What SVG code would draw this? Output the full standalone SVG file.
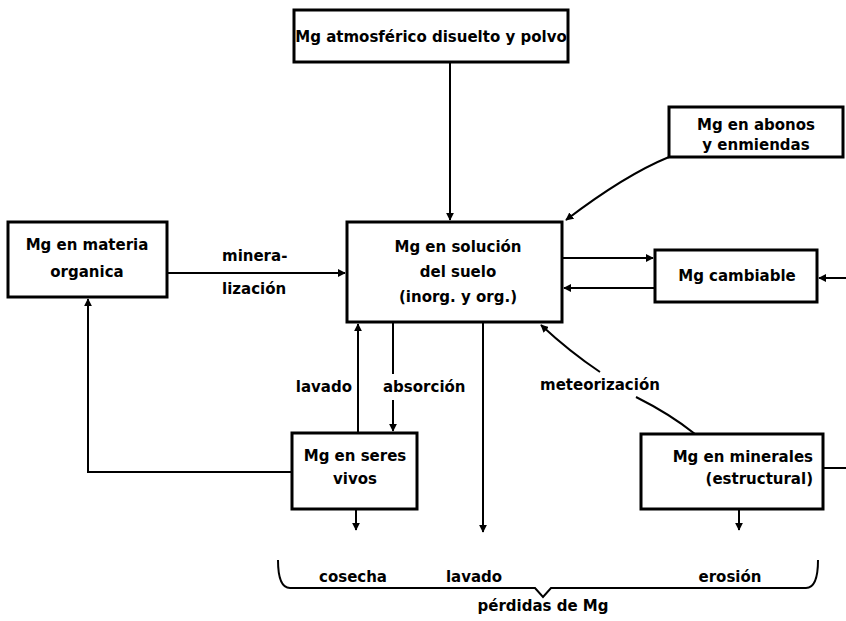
<svg xmlns="http://www.w3.org/2000/svg" width="846" height="621" viewBox="0 0 846 621">
<style>
.box{fill:#fff;stroke:#000;stroke-width:3}
.ln{fill:none;stroke:#000;stroke-width:2}
text{font-family:"DejaVu Sans","Liberation Sans",sans-serif;font-size:15px;font-weight:bold;fill:#000}
.c{text-anchor:middle}
.r{text-anchor:end}
</style>
<defs>
<marker id="ah" viewBox="0 0 10 10" refX="9" refY="5" markerWidth="4" markerHeight="4" orient="auto" markerUnits="strokeWidth">
<path d="M0,0 L10,5 L0,10 z" fill="#000"/>
</marker>
</defs>
<g id="connectors">
<line class="ln" x1="450" y1="62" x2="450" y2="220" marker-end="url(#ah)"/>
<path class="ln" d="M669,157 Q625,175 566,220" marker-end="url(#ah)"/>
<line class="ln" x1="167" y1="273" x2="345" y2="273" marker-end="url(#ah)"/>
<line class="ln" x1="562" y1="258" x2="653" y2="258" marker-end="url(#ah)"/>
<line class="ln" x1="655" y1="288" x2="564" y2="288" marker-end="url(#ah)"/>
<line class="ln" x1="846" y1="278" x2="819" y2="278" marker-end="url(#ah)"/>
<line class="ln" x1="823" y1="468" x2="846" y2="468"/>
<line class="ln" x1="358" y1="433" x2="358" y2="324" marker-end="url(#ah)"/>
<line class="ln" x1="393" y1="322" x2="393" y2="374"/>
<line class="ln" x1="393" y1="400" x2="393" y2="431" marker-end="url(#ah)"/>
<line class="ln" x1="483" y1="322" x2="483" y2="532" marker-end="url(#ah)"/>
<path class="ln" d="M292,472 L88,472 L88,299" marker-end="url(#ah)"/>
<path class="ln" d="M695,434 Q670,414 636,397"/>
<path class="ln" d="M600,372 Q570,352 541,325" marker-end="url(#ah)"/>
<line class="ln" x1="356" y1="509" x2="356" y2="530" marker-end="url(#ah)"/>
<line class="ln" x1="739" y1="509" x2="739" y2="530" marker-end="url(#ah)"/>
<path class="ln" d="M278,560 Q278,588 290,588 L535,588 L543,597 L551,588 L806,588 Q818,588 818,560"/>
</g>
<g id="atmosferico">
<rect class="box" x="294" y="10" width="274" height="52"/>
<text class="c" x="431" y="42">Mg atmosférico disuelto y polvo</text>
</g>
<g id="abonos">
<rect class="box" x="669" y="107" width="174" height="50"/>
<text class="c" x="756" y="130">Mg en abonos</text>
<text class="c" x="756" y="150">y enmiendas</text>
</g>
<g id="materia">
<rect class="box" x="8" y="222" width="159" height="75"/>
<text class="c" x="87" y="250">Mg en materia</text>
<text class="c" x="87" y="277">organica</text>
</g>
<g id="solucion">
<rect class="box" x="347" y="222" width="215" height="100"/>
<text class="c" x="458" y="252">Mg en solución</text>
<text class="c" x="458" y="277">del suelo</text>
<text class="c" x="458" y="302">(inorg. y org.)</text>
</g>
<g id="cambiable">
<rect class="box" x="655" y="250" width="162" height="52"/>
<text class="c" x="737" y="281">Mg cambiable</text>
</g>
<g id="seres">
<rect class="box" x="292" y="433" width="125" height="76"/>
<text class="c" x="355" y="461">Mg en seres</text>
<text class="c" x="355" y="484">vivos</text>
</g>
<g id="minerales">
<rect class="box" x="641" y="434" width="182" height="75"/>
<text class="r" x="813" y="462">Mg en minerales</text>
<text class="r" x="813" y="484">(estructural)</text>
</g>
<g id="labels">
<text x="222" y="261">minera-</text>
<text x="222" y="294">lización</text>
<text class="r" x="352" y="392">lavado</text>
<text x="383" y="392">absorción</text>
<text x="540" y="390">meteorización</text>
<text class="c" x="353" y="582">cosecha</text>
<text class="c" x="474" y="582">lavado</text>
<text class="c" x="730" y="582">erosión</text>
<text class="c" x="543" y="611">pérdidas de Mg</text>
</g>
</svg>
